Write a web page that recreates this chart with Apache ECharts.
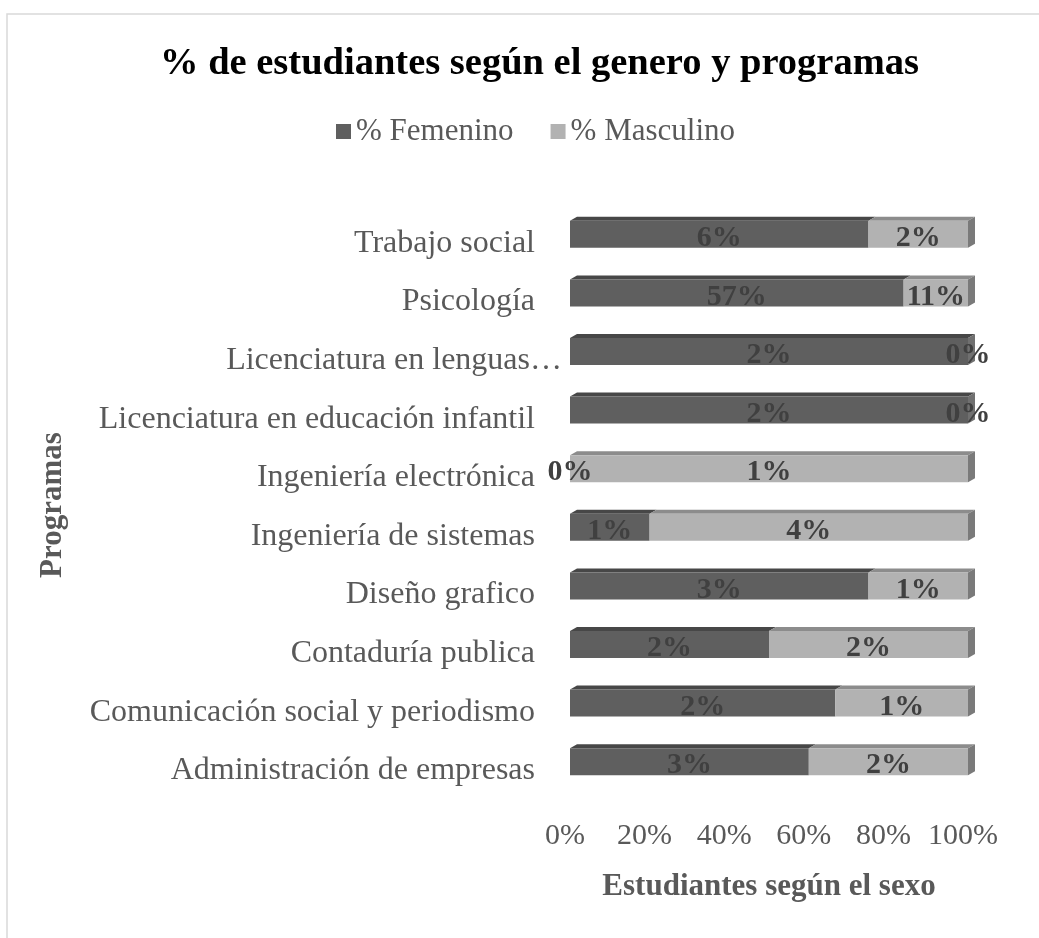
<!DOCTYPE html>
<html>
<head>
<meta charset="utf-8">
<script src="https://cdn.jsdelivr.net/npm/echarts@6/dist/echarts.min.js"></script>
<style>html,body{margin:0;padding:0;background:#fff}#c{width:1039px;height:938px}</style>
</head>
<body>
<div id="c"></div>
<script>
var categories = ['Administración de empresas','Comunicación social y periodismo','Contaduría publica','Diseño grafico','Ingeniería de sistemas','Ingeniería electrónica','Licenciatura en educación infantil','Licenciatura en lenguas…','Psicología','Trabajo social'];
var femenino = [3,2,2,3,1,0,2,2,57,6];
var masculino = [2,1,2,1,4,1,0,0,11,2];
var xTicks = [0,20,40,60,80,100];
var seriesNames = ['% Femenino','% Masculino'];

var FONT = "'Liberation Serif','Times New Roman',serif";
var femShare = femenino.map(function(v,i){var t=v+masculino[i];return t?v/t*100:0;});
var masShare = masculino.map(function(v,i){var t=femenino[i]+v;return t?v/t*100:0;});
var DX=7, DY=4, BW=27;

var chart = echarts.init(document.getElementById('c'));
chart.setOption({
  animation:false,
  backgroundColor:'#fff',
  graphic:[{type:'rect',shape:{x:7,y:14,width:1100,height:1000},style:{fill:'none',stroke:'#d9d9d9',lineWidth:1.5},z:0}],
  title:{text:'% de estudiantes según el genero y programas',left:155,top:40,
    textStyle:{fontFamily:FONT,fontSize:38.5,fontWeight:'bold',color:'#000'}},
  legend:{data:seriesNames,left:331,top:111,itemWidth:15,itemHeight:15,itemGap:37,icon:'rect',
    textStyle:{fontFamily:FONT,fontSize:31,color:'#595959'}},
  grid:{left:570,right:71,top:205,bottom:147,containLabel:false},
  xAxis:{type:'value',min:0,max:100,interval:20,
    axisLine:{show:false},axisTick:{show:false},splitLine:{show:false},
    axisLabel:{formatter:function(v){return xTicks.indexOf(v)>=0?v+'%':'';},fontFamily:FONT,fontSize:30,color:'#595959',margin:30,padding:[0,10,0,0]},
    name:'Estudiantes según el sexo',nameLocation:'middle',nameGap:80,
    nameTextStyle:{fontFamily:FONT,fontSize:31,fontWeight:'bold',color:'#595959'}},
  yAxis:{type:'category',data:categories,
    axisLine:{show:false},axisTick:{show:false},
    axisLabel:{margin:8,fontFamily:FONT,fontSize:32,color:'#595959',
      formatter:function(v){return v.indexOf('…')>=0?'{b|'+v+'}':'{a|'+v+'}';},
      rich:{a:{fontFamily:FONT,fontSize:32,color:'#595959',padding:[18,27,0,0]},
            b:{fontFamily:FONT,fontSize:32,color:'#595959',padding:[18,0,0,0]}}},
    name:'Programas',nameLocation:'middle',nameRotate:90,nameGap:502,
    nameTextStyle:{fontFamily:FONT,fontSize:31,fontWeight:'bold',color:'#595959',padding:[0,14,0,0]}},
  series:[
    {type:'custom',z:1,silent:true,
     data:categories.map(function(c,i){return [femShare[i],i,masShare[i]];}),
     encode:{x:0,y:1},
     renderItem:function(params,api){
       var fs=api.value(0), idx=api.value(1), ms=api.value(2);
       var p0=api.coord([0,idx]), p1=api.coord([fs,idx]), p2=api.coord([fs+ms,idx]);
       var yt=p0[1]-BW/2, yb=p0[1]+BW/2;
       var ch=[];
       if(fs>0) ch.push({type:'polygon',shape:{points:[[p0[0],yt],[p1[0],yt],[p1[0]+DX,yt-DY],[p0[0]+DX,yt-DY]]},style:{fill:'#474747'}});
       if(ms>0) ch.push({type:'polygon',shape:{points:[[p1[0],yt],[p2[0],yt],[p2[0]+DX,yt-DY],[p1[0]+DX,yt-DY]]},style:{fill:'#8c8c8c'}});
       ch.push({type:'polygon',shape:{points:[[p2[0],yt],[p2[0]+DX,yt-DY],[p2[0]+DX,yb-DY],[p2[0],yb]]},style:{fill:ms>0?'#7a7a7a':'#707070'}});
       return {type:'group',children:ch};
     }},
    {name:seriesNames[0],type:'bar',stack:'t',barWidth:BW,data:femShare,
     itemStyle:{color:'#5f5f5f'},
     label:{show:true,position:'inside',offset:[0,4],fontFamily:FONT,fontSize:30,fontWeight:'bold',color:'#404040',
       formatter:function(p){return femenino[p.dataIndex]+'%';}}},
    {name:seriesNames[1],type:'bar',stack:'t',barWidth:BW,data:masShare,
     itemStyle:{color:'#b2b2b2'},
     label:{show:true,position:'inside',offset:[0,4],fontFamily:FONT,fontSize:30,fontWeight:'bold',color:'#404040',
       formatter:function(p){return masculino[p.dataIndex]+'%';}}}
  ]
});
</script>
</body>
</html>
